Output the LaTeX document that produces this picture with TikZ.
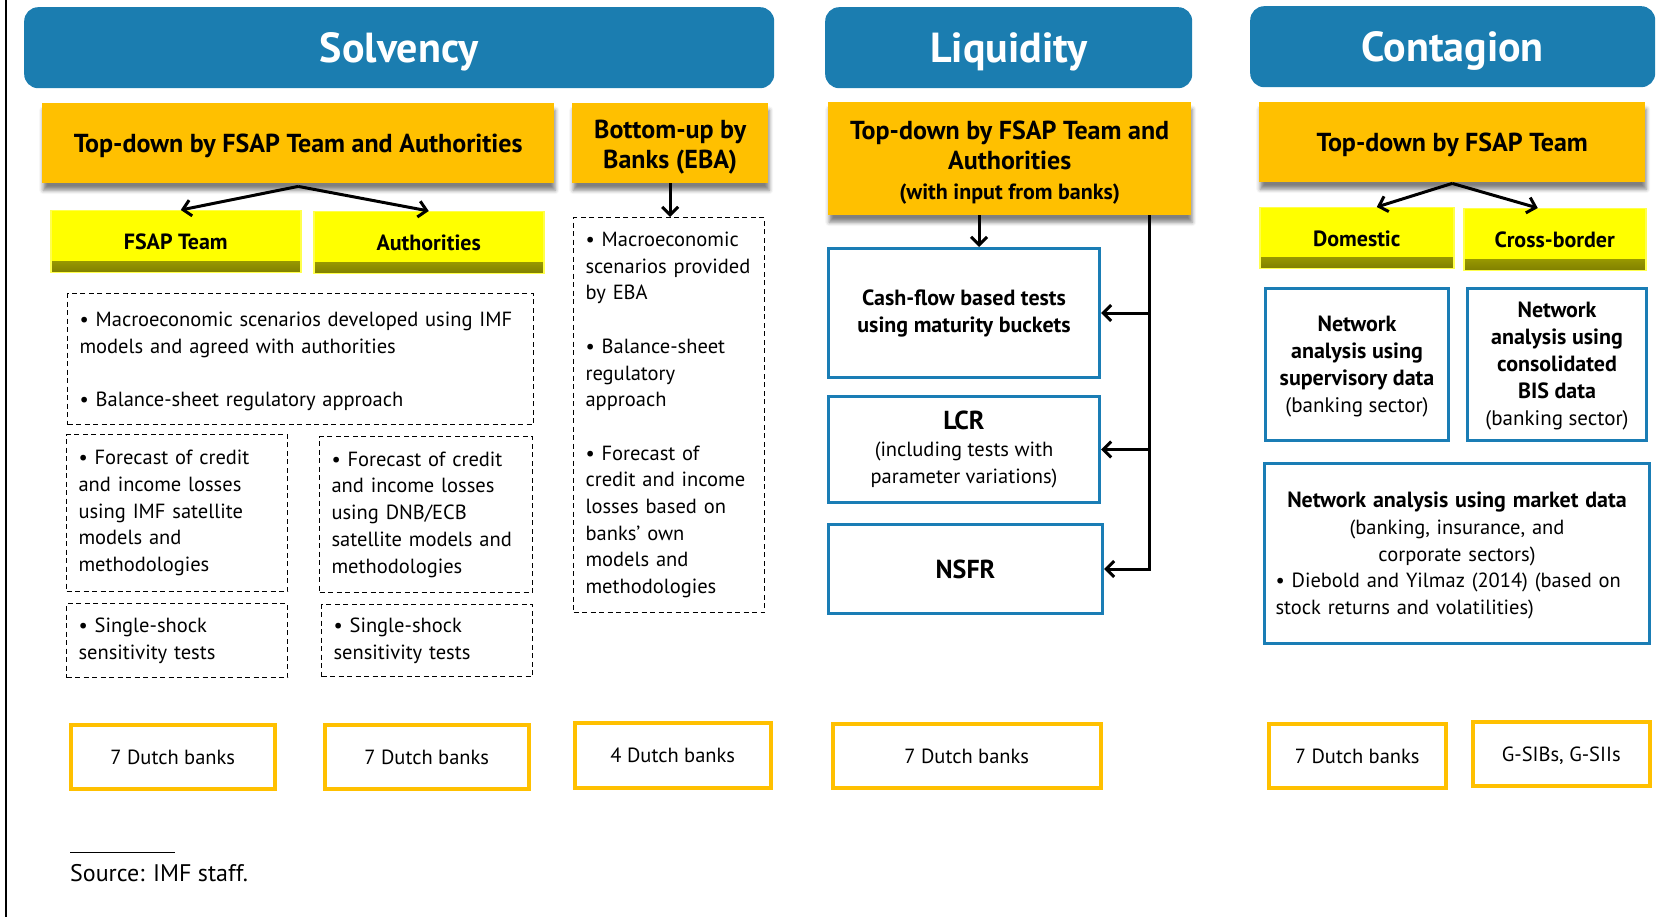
\documentclass[tikz,border=0pt]{standalone}
\usepackage{fontspec}
\setmainfont{PT Sans}
\usetikzlibrary{arrows.meta,shadows.blur,calc}
\definecolor{hblue}{HTML}{1B7DB0}
\definecolor{bblue}{HTML}{1A7DB5}
\definecolor{amber}{HTML}{FFC000}
\definecolor{yel}{HTML}{FFFF00}
\newcommand\bodyfnt{\fontsize{20.5}{26.7}\selectfont}
\newcommand\boldfnt{\fontsize{22}{27}\selectfont\bfseries}
\newcommand\regfnt{\fontsize{21}{27}\selectfont\mdseries}
\newcommand\topstrut[1]{\rule{0pt}{#1}}
\begin{document}
\begin{tikzpicture}[x=1pt,y=-1pt,
  sz/.style 2 args={minimum width=#1pt, minimum height=#2pt},
  oneline/.style={text depth=0pt},
  hdr/.style={fill=hblue, rounded corners=14pt, text=white, font=\fontsize{42}{50}\selectfont\bfseries, inner sep=0pt, oneline, anchor=north west},
  obox/.style={fill=amber, font=\fontsize{26}{30}\selectfont\bfseries, align=center, inner sep=0pt, anchor=north west,
    blur shadow={shadow xshift=1pt, shadow yshift=-7pt, shadow blur radius=4pt, shadow opacity=50}},
  ybox/.style={fill=yel, draw=yel!70!white, line width=1.5pt, font=\fontsize{22}{26}\selectfont\bfseries, inner sep=0pt, oneline, anchor=north west,
    path picture={\shade[top color=yel, bottom color=yel!50!black] ([yshift=11pt]path picture bounding box.south west) rectangle ([yshift=1.5pt]path picture bounding box.south east);}},
  dbox/.style={draw, dash pattern=on 5pt off 3.5pt, line width=1.1pt, font=\bodyfnt, align=left, inner xsep=12pt, inner ysep=0pt, anchor=north west},
  bbox/.style={draw=bblue, line width=3pt, align=center, inner sep=0pt, anchor=north west, font=\bodyfnt},
  nbox/.style={draw=amber, line width=3.5pt, inner sep=0pt, oneline, anchor=north west, font=\bodyfnt},
  arr/.style={line width=3pt, -{Straight Barb[length=8pt,width=16pt]}}
]
\useasboundingbox (0,0) rectangle (1662,917);
\draw[line width=2pt] (6,0) -- (6,917);

% headers
\node[hdr, sz={750}{81}] (solv) at (24,7) {Solvency};
\node[hdr, sz={367}{81}] (liq) at (825,7) {Liquidity};
\node[hdr, sz={405}{81}] (cont) at (1250,6) {Contagion};

% orange boxes
\node[obox, oneline, sz={512}{80}] (tdS) at (42,103) {Top-down by FSAP Team and Authorities};
\node[obox, sz={196}{80}] (buS) at (572,103) {\topstrut{27pt}Bottom-up by\\ Banks (EBA)};
\node[obox, sz={363}{113}] (tdL) at (828,102) {\topstrut{27pt}Top-down by FSAP Team and\\ Authorities\\ {\fontsize{22}{26}\selectfont (with input from banks)}};
\node[obox, oneline, sz={386}{80}] (tdC) at (1259,102) {Top-down by FSAP Team};

% yellow boxes
\node[ybox, sz={250}{62}] (fsap) at (50,210) {FSAP Team};
\node[ybox, sz={230}{62}] (auth) at (313,211) {Authorities};
\node[ybox, sz={194}{61}] (dom) at (1259,207) {Domestic};
\node[ybox, sz={182}{62}] (cross) at (1463,208) {Cross-border};

% dashed boxes
\node[dbox, sz={466}{131}, text width=442pt] (mS) at (67,293)
  {\topstrut{20pt}• Macroeconomic scenarios developed using IMF\\ models and agreed with authorities\\[26.7pt] • Balance-sheet regulatory approach};
\node[dbox, sz={221}{157}, text width=197pt] (fS1) at (66,434)
  {• Forecast of credit\\ and income losses\\ using IMF satellite\\ models and\\ methodologies};
\node[dbox, sz={213}{156}, text width=189pt] (fS2) at (319,436)
  {• Forecast of credit\\ and income losses\\ using DNB/ECB\\ satellite models and\\ methodologies};
\node[dbox, sz={221}{74}, text width=197pt] (sS1) at (66,603)
  {• Single-shock\\ sensitivity tests};
\node[dbox, sz={211}{72}, text width=187pt] (sS2) at (321,604)
  {• Single-shock\\ sensitivity tests};
\node[dbox, sz={191}{395}, text width=167pt] (buD) at (573,217)
  {• Macroeconomic\\ scenarios provided\\ by EBA\\[26.7pt] • Balance-sheet\\ regulatory\\ approach\\[26.7pt] • Forecast of\\ credit and income\\ losses based on\\ banks' own\\ models and\\ methodologies};

% blue boxes
\node[bbox, sz={271}{129}, font=\boldfnt] (cash) at (827,247) {Cash-flow based tests\\ using maturity buckets};
\node[bbox, sz={271}{106}] (lcr) at (827,395) {{\bfseries\fontsize{26}{29}\selectfont LCR}\\ (including tests with\\ parameter variations)};
\node[bbox, oneline, sz={274}{89}] (nsfr) at (827,523) {\bfseries\fontsize{26}{29}\selectfont NSFR};
\node[bbox, sz={183}{152}, font=\boldfnt] (netS) at (1264,287) {\topstrut{19pt}Network\\ analysis using\\ supervisory data\\ {\regfnt (banking sector)}};
\node[bbox, sz={179}{152}, font=\boldfnt] (netB) at (1466,287) {\topstrut{19pt}Network\\ analysis using\\ consolidated\\ BIS data\\ {\regfnt (banking sector)}};
\node[bbox, sz={385}{180}, text width=363pt] (mkt) at (1263,462)
  {{\boldfnt\topstrut{20pt}Network analysis using market data}\\ (banking, insurance, and\\ corporate sectors)\\
   \makebox[363pt][l]{• Diebold and Yilmaz (2014) (based on}\\ \makebox[363pt][l]{stock returns and volatilities)}};

% bank count boxes
\node[nbox, sz={204}{64}] (d1) at (69,723) {7 Dutch banks};
\node[nbox, sz={204}{64}] (d2) at (323,723) {7 Dutch banks};
\node[nbox, sz={196}{65}] (d3) at (573,721) {4 Dutch banks};
\node[nbox, sz={268}{64}] (d4) at (831,722) {7 Dutch banks};
\node[nbox, sz={177}{64}] (d5) at (1267,722) {7 Dutch banks};
\node[nbox, sz={177}{64}] (d6) at (1471,720) {G-SIBs, G-SIIs};

% connectors
\coordinate (sS) at ([yshift=-3pt]tdS.south);
\draw[arr] (sS) -- ([xshift=5pt]fsap.north);
\draw[arr] (sS) -- (auth.north);
\draw[arr] (buS.south) -- (buS.south |- buD.north);

\draw[arr] ([xshift=15pt]cash.north |- tdL.south) -- ([xshift=15pt]cash.north);
\coordinate (spT) at ([xshift=-42pt]tdL.south east);
\draw[arr] (spT) |- (nsfr.east);
\draw[arr] (spT |- cash.east) -- (cash.east);
\draw[arr] (spT |- lcr.east) -- (lcr.east);

\coordinate (sC) at ([yshift=-1pt]tdC.south);
\draw[arr] (sC) -- ([xshift=20pt]dom.north);
\draw[arr] (sC) -- ([xshift=-17pt]cross.north);

% source
\draw[line width=0.8pt] (70,852) -- (175,852);
\node[anchor=west, font=\fontsize{24}{29}\selectfont, inner sep=0pt] (src) at (70,873) {Source: IMF staff.};
\end{tikzpicture}
\end{document}
